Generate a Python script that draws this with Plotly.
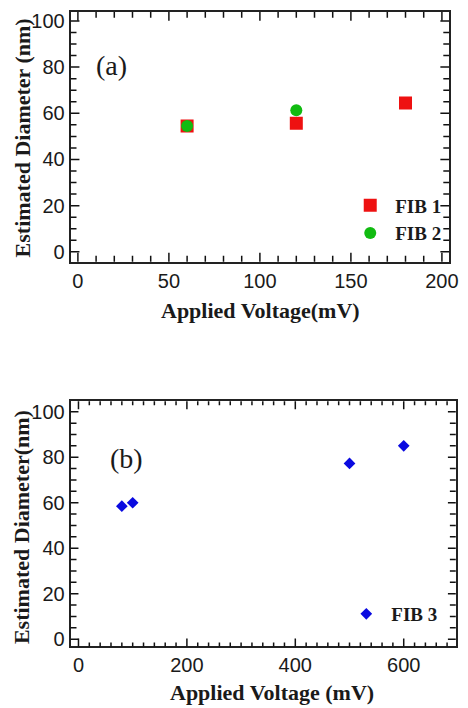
import plotly.graph_objects as go

# ---- data ----
fib1_v = [60, 120, 180]
fib1_d = [54.5, 55.7, 64.5]
fib2_v = [60, 120]
fib2_d = [54.5, 61.3]
fib3_v = [80, 100, 500, 600]
fib3_d = [58.5, 60.0, 77.3, 85.0]

# tick lists
top_x_ticks = [0, 50, 100, 150, 200]
top_y_ticks = [0, 20, 40, 60, 80, 100]
bot_x_ticks = [0, 200, 400, 600]
bot_y_ticks = [0, 20, 40, 60, 80, 100]

W, H = 468, 708
def px(x): return x / W
def py(y): return 1 - y / H

SERIF = "Liberation Serif"
SANS = "Liberation Sans"
INK = "#1a1a1a"
tickfont = dict(family=SANS, size=20, color=INK)
titlefont = dict(family=SERIF, size=22, color=INK)

fig = go.Figure()
fig.add_trace(go.Scatter(x=fib1_v, y=fib1_d, mode="markers", name="<b>FIB 1</b>",
                         marker=dict(symbol="square", size=13, color="#ee1111"),
                         xaxis="x", yaxis="y", legend="legend"))
fig.add_trace(go.Scatter(x=fib2_v, y=fib2_d, mode="markers", name="<b>FIB 2</b>",
                         marker=dict(symbol="circle", size=12, color="#11bb11"),
                         xaxis="x", yaxis="y", legend="legend"))
fig.add_trace(go.Scatter(x=fib3_v, y=fib3_d, mode="markers", name="<b>FIB 3</b>",
                         marker=dict(symbol="diamond", size=9, color="#0a0ae0"),
                         xaxis="x2", yaxis="y2", legend="legend2"))

def ax(**kw):
    d = dict(showline=True, linecolor="#222222", linewidth=1.8, mirror=True,
             ticks="", tickfont=tickfont, showgrid=False, zeroline=False,
             tickmode="array")
    d.update(kw)
    return d

# domains in pixels
top_box = dict(l=72, r=458, t=10, b=262)
bot_box = dict(l=72, r=464.7, t=402.7, b=650)

fig.update_layout(
    width=W, height=H, margin=dict(l=0, r=0, t=0, b=0),
    paper_bgcolor="white", plot_bgcolor="white",
    xaxis=ax(domain=[px(top_box["l"]), px(top_box["r"])], anchor="y", range=[-4, 204],
             tickvals=top_x_ticks),
    yaxis=ax(domain=[py(top_box["b"]), py(top_box["t"])], anchor="x", range=[-4.3, 103.9],
             tickvals=top_y_ticks),
    xaxis2=ax(domain=[px(bot_box["l"]), px(bot_box["r"])], anchor="y2", range=[-14.5, 696],
              tickvals=bot_x_ticks),
    yaxis2=ax(domain=[py(bot_box["b"]), py(bot_box["t"])], anchor="x2", range=[-3.2, 104.6],
              tickvals=bot_y_ticks),
    legend=dict(x=px(352), y=py(186), xanchor="left", yanchor="top",
                bgcolor="rgba(0,0,0,0)", font=dict(family=SERIF, size=19, color=INK),
                itemwidth=40),
    legend2=dict(x=px(348), y=py(598), xanchor="left", yanchor="top",
                 bgcolor="rgba(0,0,0,0)", font=dict(family=SERIF, size=19, color=INK),
                 itemwidth=40),
    showlegend=True,
)

# ---- inside ticks on all four sides (drawn in axis coordinates) ----
shapes = []
def add_ticks(xref, yref, box, xmin, xmax, xmaj, xmin_step, xmaj_len, xmin_len,
              ymin, ymax, ymaj, ymin_step, ymaj_len, ymin_len):
    wpx = box["r"] - box["l"]
    hpx = box["b"] - box["t"]
    line = dict(color="#111111", width=1.5)
    v = xmin
    while v <= xmax + 1e-9:
        L = xmaj_len if any(abs(v - m) < 1e-9 for m in xmaj) else xmin_len
        f = L / hpx
        shapes.append(dict(type="line", xref=xref, yref=yref + " domain", layer="above",
                           x0=v, x1=v, y0=0, y1=f, line=line))
        shapes.append(dict(type="line", xref=xref, yref=yref + " domain", layer="above",
                           x0=v, x1=v, y0=1, y1=1 - f, line=line))
        v += xmin_step
    v = ymin
    while v <= ymax + 1e-9:
        L = ymaj_len if any(abs(v - m) < 1e-9 for m in ymaj) else ymin_len
        f = L / wpx
        shapes.append(dict(type="line", xref=xref + " domain", yref=yref, layer="above",
                           x0=0, x1=f, y0=v, y1=v, line=line))
        shapes.append(dict(type="line", xref=xref + " domain", yref=yref, layer="above",
                           x0=1, x1=1 - f, y0=v, y1=v, line=line))
        v += ymin_step

add_ticks("x", "y", top_box, 0, 200, top_x_ticks, 10, 9, 6,
          0, 100, top_y_ticks, 5, 9, 6)
add_ticks("x2", "y2", bot_box, 0, 680, bot_x_ticks, 20, 8, 4,
          0, 100, bot_y_ticks, 5, 8, 6)
fig.update_layout(shapes=shapes)

# ---- titles and panel labels ----
ann = [
    dict(text="<b>Applied Voltage(mV)</b>", x=px(266), y=py(311)),
    dict(text="<b>Estimated Diameter (nm)</b>", x=px(23), y=py(137), textangle=-90),
    dict(text="<b>Applied Voltage (mV)</b>", x=px(277), y=py(696)),
    dict(text="<b>Estimated Diameter(nm)</b>", x=px(22), y=py(530), textangle=-90),
]
for a in ann:
    a.update(xref="paper", yref="paper", showarrow=False, xanchor="center",
             yanchor="middle", font=titlefont)
ann += [
    dict(text="(a)", x=px(114), y=py(64), xref="paper", yref="paper", showarrow=False,
         xanchor="center", yanchor="middle", font=dict(family=SERIF, size=28, color=INK)),
    dict(text="(b)", x=px(129), y=py(460), xref="paper", yref="paper", showarrow=False,
         xanchor="center", yanchor="middle", font=dict(family=SERIF, size=28, color=INK)),
]
fig.update_layout(annotations=ann)

fig.write_html("out.html")
